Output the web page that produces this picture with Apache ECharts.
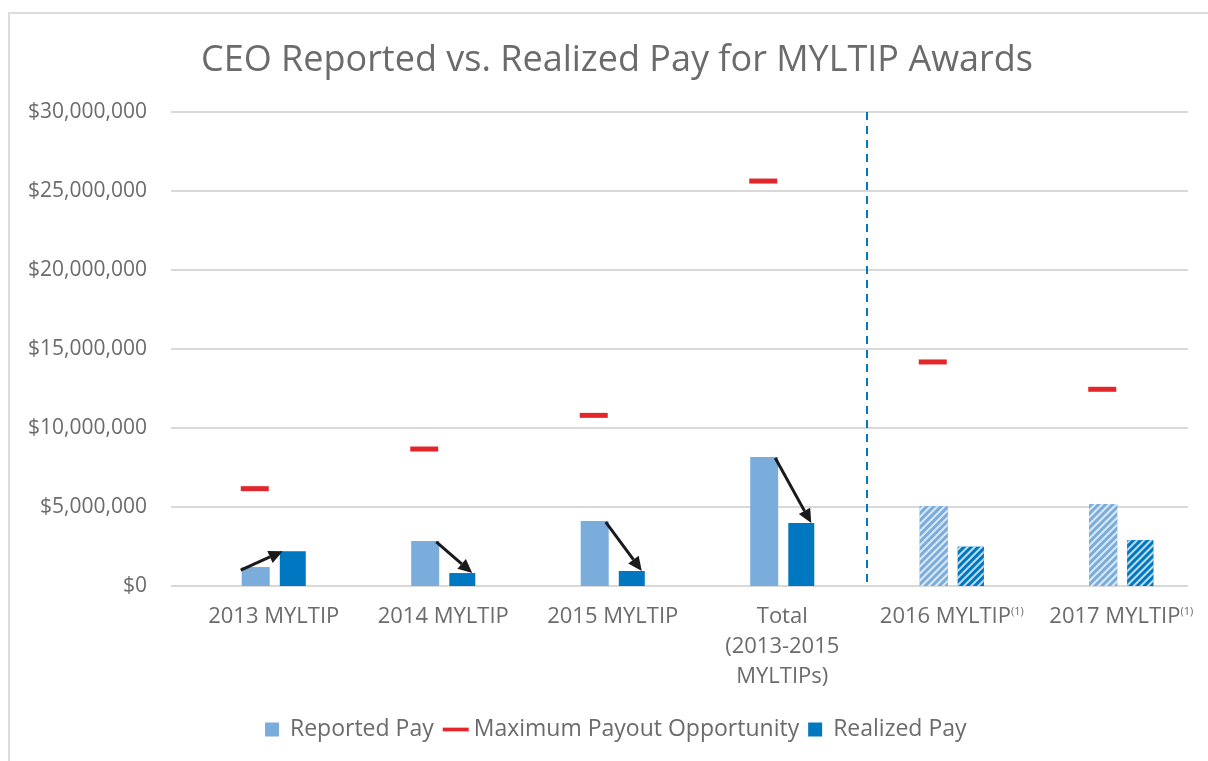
<!DOCTYPE html>
<html>
<head>
<meta charset="utf-8">
<script src="https://cdn.jsdelivr.net/npm/echarts@6/dist/echarts.min.js"></script>
<style>
  html, body { margin: 0; padding: 0; background: #fff; }
  #chart { width: 1208px; height: 761px; }
</style>
</head>
<body>
<div id="chart"></div>
<script>
// categories (the last two carry a footnote mark)
const categories = ['2013 MYLTIP', '2014 MYLTIP', '2015 MYLTIP', 'Total\n(2013-2015\nMYLTIPs)', '2016 MYLTIP', '2017 MYLTIP']
const footnoted = [false, false, false, false, true, true]
// values in dollars
const reportedPay = [1200000, 2850000, 4110000, 8160000, 5040000, 5190000]
const maxPayout = [6160000, 8670000, 10800000, 25630000, 14180000, 12450000]
const realizedPay = [2200000, 820000, 950000, 3980000, 2490000, 2890000]
// the last two years are projected, drawn hatched
const projected = [false, false, false, false, true, true]
// arrows from reported to realized for the first four groups
const arrowGroups = [0, 1, 2, 3]
// dashed divider sits before this category
const dividerBefore = 4
// y axis ticks
const yMin = 0
const yMax = 30000000
const yStep = 5000000

const textColor = '#6b6b6b'
const lightBlue = '#7aacdc'
const darkBlue = '#0078c1'
const red = '#e3262a'

const BAR_W = 28
const BAR_OFF = 19 // half of bar + half of gap

const chart = echarts.init(document.getElementById('chart'))

function money(v) {
  return '$' + v.toLocaleString('en-US')
}

function hatch(color) {
  return {
    color: 'rgba(255,255,255,0.75)',
    backgroundColor: color,
    symbol: 'rect',
    dashArrayX: [1, 0],
    dashArrayY: [2, 3],
    rotation: -Math.PI / 4
  }
}

const reportedData = reportedPay.map((v, i) => projected[i]
  ? { value: v, itemStyle: { decal: hatch(lightBlue) } }
  : v)
const realizedData = realizedPay.map((v, i) => projected[i]
  ? { value: v, itemStyle: { decal: hatch(darkBlue) } }
  : v)

const arrowData = arrowGroups.map(i => [i, reportedPay[i], realizedPay[i]])

function renderArrow(params, api) {
  const i = api.value(0)
  const p1 = api.coord([i, api.value(1)])
  const p2 = api.coord([i, api.value(2)])
  let x1, y1, x2, y2
  if (api.value(2) > api.value(1)) {
    // going up: from left of reported bar to top-left of realized bar
    x1 = p1[0] - BAR_OFF - BAR_W / 2
    y1 = p1[1] + 3
    x2 = p2[0] + BAR_OFF - BAR_W / 2 + 4
    y2 = p2[1]
  } else {
    x1 = p1[0] - BAR_OFF + BAR_W / 2 - 2
    y1 = p1[1] + 1
    x2 = p2[0] + BAR_OFF + BAR_W / 2 - 4
    y2 = p2[1]
  }
  const ang = Math.atan2(y2 - y1, x2 - x1)
  const hl = 14, hw = 6.5
  const bx = x2 - hl * Math.cos(ang), by = y2 - hl * Math.sin(ang)
  const nx = -Math.sin(ang) * hw, ny = Math.cos(ang) * hw
  return {
    type: 'group',
    children: [
      {
        type: 'line',
        shape: { x1: x1, y1: y1, x2: bx, y2: by },
        style: { stroke: '#1a1a1a', lineWidth: 3 }
      },
      {
        type: 'polygon',
        shape: { points: [[x2, y2], [bx + nx, by + ny], [bx - nx, by - ny]] },
        style: { fill: '#1a1a1a' }
      }
    ]
  }
}

function renderDivider(params, api) {
  const a = api.coord([api.value(0) - 1, yMin])
  const b = api.coord([api.value(0), yMax])
  const x = Math.round((a[0] + b[0]) / 2)
  return {
    type: 'line',
    shape: { x1: x, y1: b[1], x2: x, y2: a[1] },
    style: { stroke: darkBlue, lineWidth: 2, lineDash: [8, 6] }
  }
}

const sq = 'path://M0,0 L1,0 L1,1 L0,1 Z'

chart.setOption({
  animation: false,
  textStyle: { fontFamily: 'Open Sans', color: textColor },
  title: {
    text: 'CEO Reported vs. Realized Pay for MYLTIP Awards',
    left: 196,
    top: 38,
    textStyle: { fontSize: 36, fontWeight: 'normal', color: textColor, fontFamily: 'Open Sans' }
  },
  graphic: [
    {
      type: 'rect',
      shape: { x: 9, y: 13, width: 1300, height: 900 },
      style: { fill: 'none', stroke: '#dcdcdc', lineWidth: 2 },
      silent: true
    }
  ],
  legend: {
    bottom: 15,
    left: 260,
    itemGap: 9,
    itemWidth: 26,
    itemHeight: 14,
    symbolKeepAspect: true,
    textStyle: { fontSize: 23, color: textColor },
    data: [
      { name: 'Reported Pay', icon: sq },
      { name: 'Maximum Payout Opportunity', icon: 'path://M0,0 L28,0 L28,4 L0,4 Z', itemStyle: { color: red } },
      { name: 'Realized Pay', icon: sq }
    ]
  },
  grid: [
    // grid with the gridlines and the y labels
    { left: 171, right: 20, top: 112, bottom: 175 },
    // grid with the categories, shifted right as in the original
    { left: 189, right: 2, top: 112, bottom: 175 }
  ],
  xAxis: [
    {
      type: 'category',
      gridIndex: 0,
      data: categories,
      show: false
    },
    {
      type: 'category',
      gridIndex: 1,
      data: categories,
      axisLine: { show: false },
      axisTick: { show: false },
      splitLine: { show: false },
      axisLabel: {
        interval: 0,
        margin: 16,
        fontSize: 22,
        lineHeight: 30,
        color: textColor,
        formatter: (v, idx) => footnoted[idx] ? v + '{sup|(1)}' : v,
        rich: {
          sup: { fontSize: 11, color: textColor, padding: [0, 0, 10, 0] }
        }
      }
    }
  ],
  yAxis: [
    {
      type: 'value',
      gridIndex: 0,
      min: yMin,
      max: yMax,
      interval: yStep,
      axisLine: { show: false },
      axisTick: { show: false },
      splitLine: { lineStyle: { color: '#d9d9d9', width: 2 } },
      axisLabel: { fontSize: 21, margin: 24, color: textColor, formatter: money }
    },
    {
      type: 'value',
      gridIndex: 1,
      min: yMin,
      max: yMax,
      interval: yStep,
      show: false
    }
  ],
  series: [
    {
      name: 'Reported Pay',
      type: 'bar',
      xAxisIndex: 1,
      yAxisIndex: 1,
      barWidth: BAR_W,
      barGap: '36%',
      itemStyle: { color: lightBlue },
      data: reportedData
    },
    {
      name: 'Maximum Payout Opportunity',
      type: 'scatter',
      xAxisIndex: 1,
      yAxisIndex: 1,
      symbol: 'rect',
      symbolSize: [28, 5],
      symbolOffset: [-BAR_OFF, 0],
      itemStyle: { color: red, opacity: 1 },
      data: maxPayout
    },
    {
      name: 'Realized Pay',
      type: 'bar',
      xAxisIndex: 1,
      yAxisIndex: 1,
      barWidth: BAR_W - 2,
      itemStyle: { color: darkBlue },
      data: realizedData
    },
    {
      name: 'arrows',
      type: 'custom',
      xAxisIndex: 1,
      yAxisIndex: 1,
      silent: true,
      z: 10,
      renderItem: renderArrow,
      data: arrowData
    },
    {
      name: 'divider',
      type: 'custom',
      xAxisIndex: 1,
      yAxisIndex: 1,
      silent: true,
      renderItem: renderDivider,
      data: [[dividerBefore]]
    }
  ]
})
</script>
</body>
</html>
